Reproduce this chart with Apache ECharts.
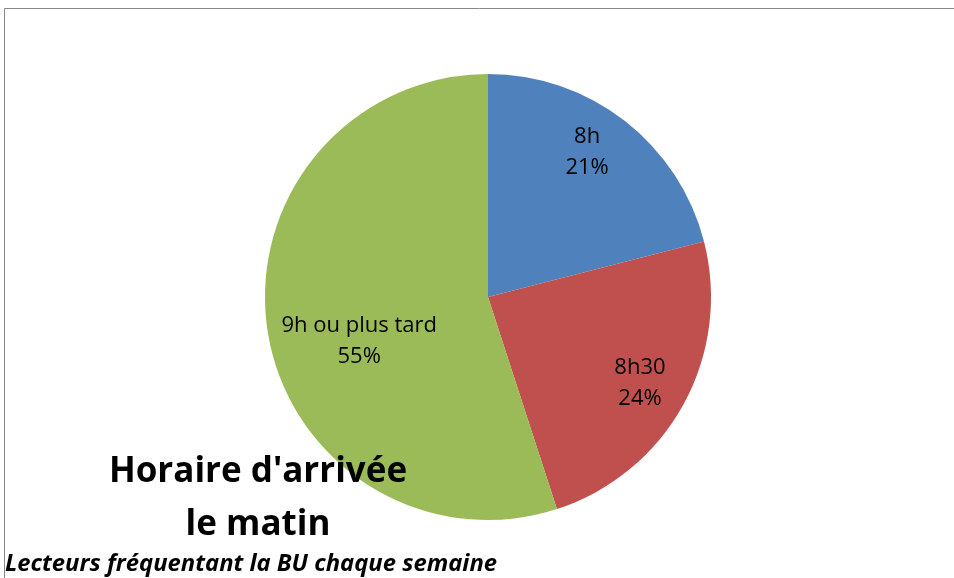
<!DOCTYPE html>
<html>
<head>
<meta charset="utf-8">
<script src="https://cdn.jsdelivr.net/npm/echarts@6/dist/echarts.min.js"></script>
<style>
  html, body { margin: 0; padding: 0; background: #fff; }
  #chart { width: 954px; height: 578px; }
</style>
</head>
<body>
<div id="chart"></div>
<script>
const categories = ['8h', '8h30', '9h ou plus tard'];
const shares = [21, 24, 55];
const colors = ['#4F81BD', '#C0504D', '#9BBB59'];
const labelOffsets = [[-10, -4], [-4, 0], [47, 16]];

const chart = echarts.init(document.getElementById('chart'));
const font = '"Open Sans", sans-serif';

chart.setOption({
  animation: false,
  title: [
    {
      text: "Horaire d'arrivée\nle matin",
      left: 258,
      top: 446,
      padding: 0,
      textAlign: 'center',
      textStyle: { fontFamily: font, fontSize: 35, fontWeight: 'bold', color: '#000', lineHeight: 53 }
    },
    {
      text: 'Lecteurs fréquentant la BU chaque semaine',
      left: 5,
      top: 552,
      padding: 0,
      textStyle: { fontFamily: font, fontSize: 23.8, fontWeight: 'bold', fontStyle: 'italic', color: '#000' }
    }
  ],
  graphic: [
    { type: 'line', shape: { x1: 4.5, y1: 8.5, x2: 954, y2: 8.5 }, style: { stroke: '#888', lineWidth: 1 } },
    { type: 'line', shape: { x1: 4.5, y1: 8.5, x2: 4.5, y2: 578 }, style: { stroke: '#888', lineWidth: 1 } }
  ],
  series: [
    {
      type: 'pie',
      center: [488, 297],
      radius: 223,
      startAngle: 90,
      clockwise: true,
      silent: true,
      label: { show: false },
      labelLine: { show: false },
      data: categories.map((c, i) => ({ name: c, value: shares[i], itemStyle: { color: colors[i] } }))
    },
    {
      type: 'pie',
      center: [488, 297],
      radius: [0, 350],
      startAngle: 90,
      clockwise: true,
      silent: true,
      itemStyle: { color: 'rgba(0,0,0,0)' },
      labelLine: { show: false },
      label: {
        show: true,
        position: 'inside',
        formatter: p => p.name + '\n' + p.value + '%',
        fontFamily: font,
        fontSize: 22,
        lineHeight: 31,
        color: '#000'
      },
      data: categories.map((c, i) => ({ name: c, value: shares[i], label: { offset: labelOffsets[i] } }))
    }
  ]
});
</script>
</body>
</html>
